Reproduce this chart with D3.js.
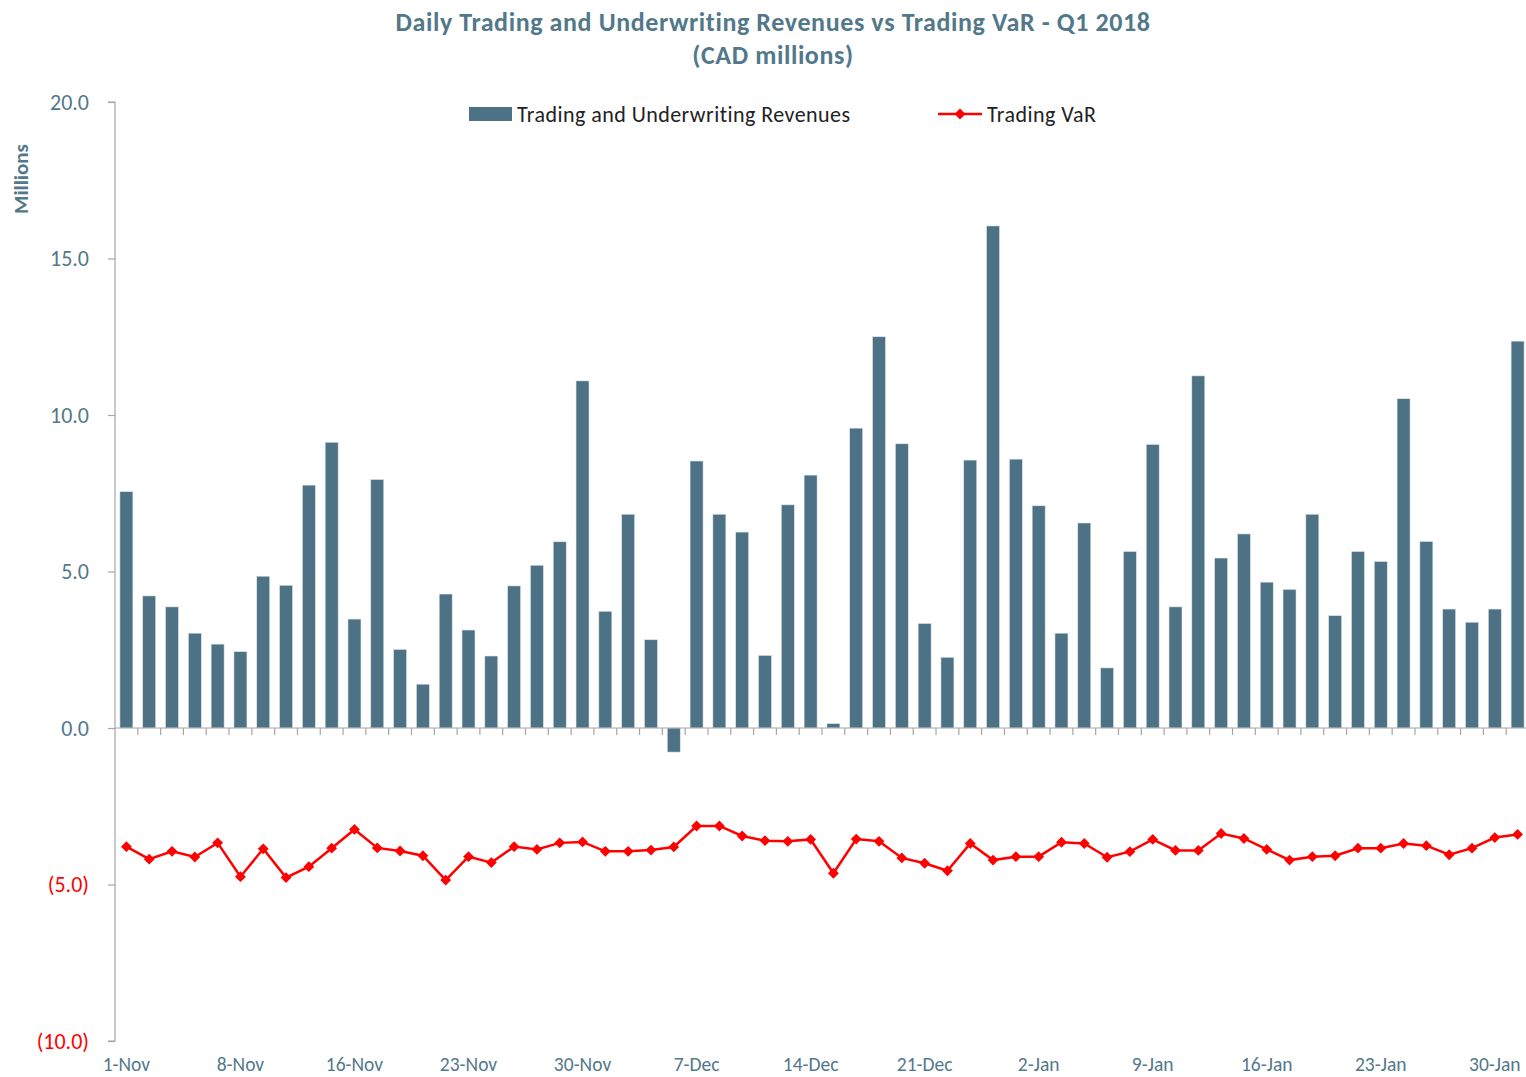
<!DOCTYPE html>
<html>
<head>
<meta charset="utf-8">
<script src="https://cdn.jsdelivr.net/npm/d3@7"></script>
<style>
  html, body { margin: 0; padding: 0; background: #fff; }
  svg { display: block; }
  text { font-family: Carlito, Calibri, Lato, "Open Sans", sans-serif; }
</style>
</head>
<body>
<svg id="chart" width="1526" height="1077"></svg>
<script>
// ---- Data ----
const dates = [
  "1-Nov","2-Nov","3-Nov","6-Nov","7-Nov","8-Nov","9-Nov","10-Nov","14-Nov","15-Nov",
  "16-Nov","17-Nov","20-Nov","21-Nov","22-Nov","23-Nov","24-Nov","27-Nov","28-Nov","29-Nov",
  "30-Nov","1-Dec","4-Dec","5-Dec","6-Dec","7-Dec","8-Dec","11-Dec","12-Dec","13-Dec",
  "14-Dec","15-Dec","18-Dec","19-Dec","20-Dec","21-Dec","22-Dec","27-Dec","28-Dec","29-Dec",
  "2-Jan","3-Jan","4-Jan","5-Jan","8-Jan","9-Jan","10-Jan","11-Jan","12-Jan","15-Jan",
  "16-Jan","17-Jan","18-Jan","19-Jan","22-Jan","23-Jan","24-Jan","25-Jan","26-Jan","29-Jan",
  "30-Jan","31-Jan"
];
const revenues = [
  7.55, 4.22, 3.87, 3.03, 2.68, 2.44, 4.85, 4.56, 7.76, 9.13,
  3.48, 7.94, 2.51, 1.40, 4.28, 3.13, 2.30, 4.54, 5.20, 5.95,
  11.09, 3.73, 6.83, 2.82, -0.77, 8.53, 6.83, 6.26, 2.32, 7.13,
  8.08, 0.14, 9.58, 12.50, 9.08, 3.34, 2.26, 8.56, 16.04, 8.59,
  7.10, 3.03, 6.55, 1.92, 5.64, 9.06, 3.87, 11.25, 5.43, 6.20,
  4.66, 4.43, 6.83, 3.59, 5.64, 5.32, 10.52, 5.96, 3.80, 3.38,
  3.80, 12.36
];
const tradingVaR = [
  -3.79, -4.19, -3.94, -4.12, -3.67, -4.75, -3.86, -4.78, -4.43, -3.84,
  -3.24, -3.83, -3.93, -4.08, -4.86, -4.11, -4.30, -3.79, -3.88, -3.67,
  -3.64, -3.94, -3.94, -3.90, -3.80, -3.13, -3.13, -3.45, -3.60, -3.62,
  -3.56, -4.64, -3.55, -3.62, -4.15, -4.32, -4.56, -3.69, -4.22, -4.11,
  -4.11, -3.65, -3.69, -4.13, -3.95, -3.56, -3.91, -3.91, -3.37, -3.53,
  -3.88, -4.22, -4.11, -4.08, -3.84, -3.84, -3.69, -3.76, -4.05, -3.84,
  -3.50, -3.40
];
const yTicks = [-10, -5, 0, 5, 10, 15, 20];
const titleLines = ["Daily Trading and Underwriting Revenues vs Trading VaR - Q1 2018", "(CAD millions)"];
const seriesNames = ["Trading and Underwriting Revenues", "Trading VaR"];

// ---- Style ----
const barColor = "#4d7285";
const textColor = "#52788a";
const axisColor = "#a6a6a6";
const red = "#ff0000";

const svg = d3.select("#chart");
const plotLeft = 115, plotRight = 1529, plotTop = 102, plotBottom = 1041;

const x = d3.scaleBand().domain(dates).range([plotLeft, plotRight]).paddingInner(0.43).paddingOuter(0.215);
const y = d3.scaleLinear().domain([-10, 20]).range([plotBottom, plotTop]);
const step = x.step();

// Title
svg.append("g").selectAll("text").data(titleLines).join("text")
  .attr("x", 773).attr("y", (d, i) => 31 + i * 33)
  .attr("text-anchor", "middle")
  .attr("font-size", 26).attr("font-weight", "bold")
  .attr("letter-spacing", 0.6)
  .attr("fill", textColor)
  .text(d => d);

// Y axis title
svg.append("text")
  .attr("transform", "translate(28,179) rotate(-90)")
  .attr("text-anchor", "middle")
  .attr("font-size", 21).attr("font-weight", "bold")
  .attr("fill", textColor)
  .text("Millions");

// Bars
svg.append("g").selectAll("rect").data(revenues).join("rect")
  .attr("x", (d, i) => x(dates[i]))
  .attr("width", x.bandwidth())
  .attr("y", d => y(Math.max(0, d)))
  .attr("height", d => Math.abs(y(d) - y(0)))
  .attr("fill", barColor)
  .attr("stroke", "#dfe6ea").attr("stroke-width", 0.6);

// Y axis
const yAxis = d3.axisLeft(y).tickValues(yTicks).tickSize(7).tickPadding(19)
  .tickFormat(d => d < 0 ? "(" + d3.format(".1f")(-d) + ")" : d3.format(".1f")(d));
const gy = svg.append("g").attr("transform", `translate(${plotLeft},0)`).call(yAxis);
gy.select(".domain").attr("stroke", axisColor).attr("stroke-width", 1.2)
  .attr("d", `M-7,${y(20)}H0V${y(-10)}H-7`);
gy.selectAll(".tick line").attr("stroke", axisColor).attr("stroke-width", 1.2);
gy.selectAll(".tick text")
  .attr("font-size", 22)
  .attr("font-family", "Carlito, Calibri, Lato, sans-serif")
  .attr("fill", d => d < 0 ? red : textColor);

// X axis line at zero with ticks at band boundaries
const gx = svg.append("g");
gx.append("line").attr("x1", plotLeft).attr("x2", 1526).attr("y1", y(0)).attr("y2", y(0))
  .attr("stroke", axisColor).attr("stroke-width", 1.2);
gx.selectAll("line.tk").data(dates.slice(1)).join("line").attr("class", "tk")
  .attr("x1", d => x(d) - step * 0.215).attr("x2", d => x(d) - step * 0.215)
  .attr("y1", y(0)).attr("y2", y(0) + 7)
  .attr("stroke", axisColor).attr("stroke-width", 1.2);

// X labels (every 5th day) at bottom
svg.append("g").selectAll("text").data(dates.filter((d, i) => i % 5 === 0)).join("text")
  .attr("x", d => x(d) + x.bandwidth() / 2)
  .attr("y", 1064)
  .attr("dy", "0.35em")
  .attr("text-anchor", "middle")
  .attr("font-size", 19.5)
  .attr("fill", textColor)
  .text(d => d);

// VaR line
const line = d3.line().x((d, i) => x(dates[i]) + x.bandwidth() / 2).y(d => y(d));
svg.append("path").datum(tradingVaR)
  .attr("d", line).attr("fill", "none").attr("stroke", red).attr("stroke-width", 2.5);
const diamond = d3.symbol().type(d3.symbolDiamond2).size(75);
svg.append("g").selectAll("path").data(tradingVaR).join("path")
  .attr("transform", (d, i) => `translate(${x(dates[i]) + x.bandwidth() / 2},${y(d)})`)
  .attr("d", diamond).attr("fill", red);

// Legend
const lg = svg.append("g");
lg.append("rect").attr("x", 469).attr("y", 107).attr("width", 43).attr("height", 14).attr("fill", barColor);
lg.append("text").attr("x", 517).attr("y", 114).attr("dy", "0.35em").attr("font-size", 22)
  .attr("letter-spacing", 0.45).attr("fill", "#222")
  .text(seriesNames[0]);
lg.append("line").attr("x1", 938).attr("x2", 982).attr("y1", 114).attr("y2", 114)
  .attr("stroke", red).attr("stroke-width", 2.5);
lg.append("path").attr("transform", "translate(960,114)").attr("d", diamond).attr("fill", red);
lg.append("text").attr("x", 987).attr("y", 114).attr("dy", "0.35em").attr("font-size", 22)
  .attr("letter-spacing", 0.45).attr("fill", "#222")
  .text(seriesNames[1]);
</script>
</body>
</html>
